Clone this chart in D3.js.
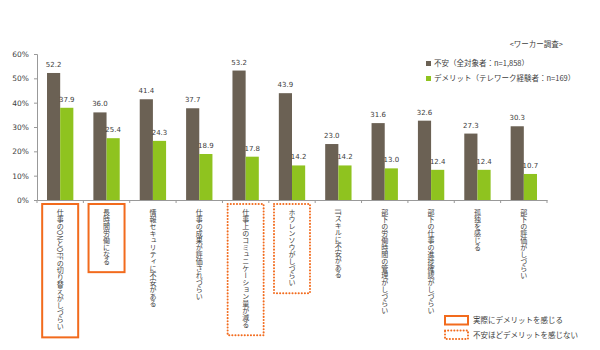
<!DOCTYPE html>
<html><head><meta charset="utf-8">
<script src="https://cdn.jsdelivr.net/npm/d3@7"></script>
<style>
html,body{margin:0;padding:0;background:#fff;}
text{font-family:"Noto Sans CJK JP","Noto Sans",sans-serif;fill:#404040;}
</style></head>
<body><svg id="c" width="600" height="350"></svg>
<script>
const categories = [
  "仕事のONとOFFの切り替えがしづらい",
  "長時間労働になる",
  "情報セキュリティに不安がある",
  "仕事の成果が評価されづらい",
  "仕事上のコミュニケーション量が減る",
  "ホウレンソウがしづらい",
  "ITスキルに不安がある",
  "部下の労働時間の管理がしづらい",
  "部下の仕事の進捗確認がしづらい",
  "孤独を感じる",
  "部下の評価がしづらい"
];
const seriesNames = ["不安（全対象者：n=1,858）", "デメリット（テレワーク経験者：n=169）"];
const anxiety = [52.2, 36.0, 41.4, 37.7, 53.2, 43.9, 23.0, 31.6, 32.6, 27.3, 30.3];
const demerit = [37.9, 25.4, 24.3, 18.9, 17.8, 14.2, 14.2, 13.0, 12.4, 12.4, 10.7];
const yTicks = [0, 10, 20, 30, 40, 50, 60];
const solidBoxed = [0, 1];
const dottedBoxed = [4, 5];
const boxLegend = ["実際にデメリットを感じる", "不安ほどデメリットを感じない"];
const note = "<ワーカー調査>";

const colors = ["#6b6154", "#8fc31f"];
const orange = "#f26b1d";
const svg = d3.select("#c");
const L = 37, R = 547, T = 54, B = 200;

const x0 = d3.scaleBand().domain(categories).range([L, R]).padding(0);
const x1 = d3.scaleBand().domain([0, 1]).range([0, x0.bandwidth()]).paddingInner(0).paddingOuter(0.76);
const y = d3.scaleLinear().domain([0, 60]).range([B, T]);

// y axis
const ya = svg.append("g").attr("transform", `translate(${L},0)`)
  .call(d3.axisLeft(y).tickValues(yTicks).tickFormat(d => d + "%").tickSize(3).tickPadding(5));
ya.selectAll("path,line").attr("stroke", "#999");
ya.selectAll("text").style("font-family", "Verdana,'DejaVu Sans',sans-serif").style("font-size", "7.5px").attr("fill", "#404040");

// x axis
const xa = svg.append("g").attr("transform", `translate(0,${B})`)
  .call(d3.axisBottom(x0).tickSize(0).tickFormat(""));
xa.select("path").attr("stroke", "#999");
const bounds = categories.map((c, i) => x0(c)).concat([R]);
svg.append("g").selectAll("line").data(bounds).join("line")
  .attr("x1", d => d).attr("x2", d => d).attr("y1", B).attr("y2", B + 3)
  .attr("stroke", "#999");

// bars
const data = categories.map((c, i) => ({ c, v: [anxiety[i], demerit[i]] }));
const g = svg.append("g").selectAll("g").data(data).join("g")
  .attr("transform", d => `translate(${x0(d.c)},0)`);
g.selectAll("rect").data(d => d.v.map((v, k) => ({ v, k }))).join("rect")
  .attr("x", d => x1(d.k)).attr("width", x1.bandwidth())
  .attr("y", d => y(d.v)).attr("height", d => B - y(d.v))
  .attr("fill", d => colors[d.k]);
g.selectAll("text").data(d => d.v.map((v, k) => ({ v, k }))).join("text")
  .attr("x", d => x1(d.k) + x1.bandwidth() / 2)
  .attr("y", d => y(d.v) - 6)
  .attr("text-anchor", "middle")
  .style("font-family", "Verdana,'DejaVu Sans',sans-serif")
  .style("font-size", "7px")
  .text(d => d.v.toFixed(1));

// category labels (vertical, Latin runs sideways)
const labels = svg.append("g").selectAll("text").data(categories).join("text")
  .attr("x", d => x0(d) + x0.bandwidth() / 2)
  .attr("y", 209)
  .style("writing-mode", "vertical-rl")
  .style("font-size", "7px")
  .attr("fill", "#404040");
labels.each(function (d) {
  const parts = d.match(/[A-Za-z]+|[^A-Za-z]+/g);
  const t = d3.select(this);
  parts.forEach(p => {
    const ts = t.append("tspan").text(p);
    if (/^[A-Za-z]+$/.test(p)) ts.style("text-orientation", "sideways");
  });
});

// boxes
labels.each(function (d, i) {
  const isSolid = solidBoxed.includes(i), isDot = dottedBoxed.includes(i);
  if (!isSolid && !isDot) return;
  const bb = this.getBBox();
  const cx = x0(d) + x0.bandwidth() / 2;
  const r = svg.append("rect")
    .attr("x", cx - 18).attr("y", 204).attr("width", 36)
    .attr("height", bb.y + bb.height + 7 - 204)
    .attr("fill", "none").attr("stroke", orange).attr("stroke-width", 2);
  if (isDot) r.attr("stroke-dasharray", "0.1,3").attr("stroke-linecap", "round");
});

// series legend
const lg = svg.append("g").selectAll("g").data(seriesNames).join("g")
  .attr("transform", (d, i) => `translate(426,${63 + i * 15})`);
lg.append("rect").attr("x", 0).attr("y", -2).attr("width", 5).attr("height", 5).attr("fill", (d, i) => colors[i]);
lg.append("text").attr("x", 8).attr("y", 3).style("font-size", "7.5px").text(d => d);

svg.append("text").attr("x", 563).attr("y", 47).attr("text-anchor", "end")
  .style("font-size", "7.5px").text(note);

// box legend
const bl = svg.append("g").selectAll("g").data(boxLegend).join("g")
  .attr("transform", (d, i) => `translate(445,${316 + i * 14.5})`);
bl.append("rect").attr("width", 23).attr("height", 8.5).attr("fill", "none")
  .attr("stroke", orange).attr("stroke-width", 2)
  .attr("stroke-dasharray", (d, i) => i ? "0.1,3" : null)
  .attr("stroke-linecap", (d, i) => i ? "round" : null);
bl.append("text").attr("x", 28).attr("y", 7).style("font-size", "7.5px").text(d => d);
</script></body></html>
